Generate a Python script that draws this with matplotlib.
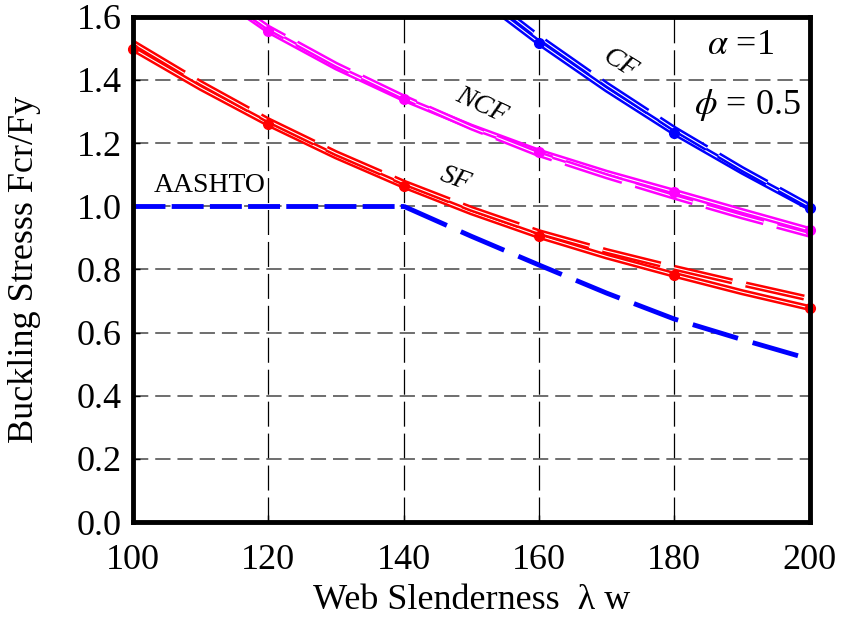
import matplotlib
matplotlib.use("Agg")
import matplotlib.pyplot as plt
import matplotlib.patheffects as pe

plt.rcParams['font.family'] = ['Liberation Serif', 'DejaVu Serif']
plt.rcParams['mathtext.fontset'] = 'stix'
plt.rcParams['lines.scale_dashes'] = False

# Web slenderness values
lam = [100, 110, 120, 130, 140, 150, 160, 170, 180, 190, 200]
lam_marks = [100, 120, 140, 160, 180, 200]

# SF curves
sf_solid = [1.499, 1.375, 1.261, 1.158, 1.065, 0.981, 0.906, 0.841, 0.783, 0.728, 0.678]
sf_dash = [1.518, 1.390, 1.272, 1.168, 1.075, 0.992, 0.918, 0.858, 0.805, 0.755, 0.707]
sf_marks = [1.499, 1.261, 1.065, 0.906, 0.783, 0.678]

# NCF curves
ncf_lam = [115, 120, 130, 140, 150, 160, 170, 180, 190, 200]
ncf_solid = [1.630, 1.556, 1.440, 1.340, 1.252, 1.173, 1.106, 1.046, 0.985, 0.925]
ncf_dash = [1.640, 1.565, 1.448, 1.345, 1.250, 1.165, 1.095, 1.030, 0.968, 0.910]
ncf_mark_lam = [120, 140, 160, 180, 200]
ncf_marks = [1.556, 1.340, 1.173, 1.046, 0.925]

# CF curves
cf_lam = [150, 160, 170, 180, 190, 200]
cf_solid = [1.680, 1.518, 1.370, 1.233, 1.110, 0.995]
cf_dash = [1.700, 1.535, 1.385, 1.245, 1.118, 1.000]
cf_mark_lam = [160, 180, 200]
cf_marks = [1.518, 1.233, 0.995]

# AASHTO design curve
aashto_flat_lam = [100, 140]
aashto_flat = [1.0, 1.0]
aashto_lam = [140, 150, 160, 170, 180, 190, 200]
aashto = [1.0, 0.905, 0.814, 0.725, 0.643, 0.578, 0.516]

fig = plt.figure(figsize=(8.55, 6.23), dpi=100)
ax = fig.add_axes([0.1556, 0.162, 0.7914, 0.811])

ax.set_xlim(100, 200)
ax.set_ylim(0, 1.6)
ax.set_xticks([100, 120, 140, 160, 180, 200])
ax.set_yticks([0.0, 0.2, 0.4, 0.6, 0.8, 1.0, 1.2, 1.4, 1.6])
ax.set_yticklabels([f"{v:.1f}" for v in ax.get_yticks()])

for x in [120, 140, 160, 180]:
    ax.axvline(x, color='black', lw=0.9, dashes=(18, 5), zorder=1)
for y in [0.2, 0.4, 0.6, 0.8, 1.0, 1.2, 1.4]:
    ax.axhline(y, color='#555555', lw=1.2, dashes=(11, 5), zorder=1)


def double_line(xs, ys, color, dashes=None):
    kw = dict(color='white', lw=0.8, zorder=3, solid_capstyle='butt',
              path_effects=[pe.Stroke(linewidth=4.4, foreground=color), pe.Normal()])
    if dashes is not None:
        kw['dashes'] = dashes
    ax.plot(xs, ys, **kw)


red = '#ff0000'
mag = '#ff00ff'
blue = '#0000ff'

double_line(lam, sf_solid, red)
double_line(lam, sf_dash, red, dashes=(43, 10))
ax.plot(lam_marks, sf_marks, 'o', color=red, ms=7, zorder=4, clip_on=False)

double_line(ncf_lam, ncf_solid, mag)
double_line(ncf_lam, ncf_dash, mag, dashes=(43, 10))
ax.plot(ncf_mark_lam, ncf_marks, 'o', color=mag, ms=7, zorder=4, clip_on=False)

double_line(cf_lam, cf_solid, blue)
double_line(cf_lam, cf_dash, blue, dashes=(40, 10))
ax.plot(cf_mark_lam, cf_marks, 'o', color=blue, ms=7, zorder=4, clip_on=False)

ax.plot(aashto_flat_lam, aashto_flat, color=blue, lw=3.5, dashes=(23, 4.5), zorder=3)
ax.plot(aashto_lam, aashto, color=blue, lw=3.5, dashes=(34, 11), zorder=3)

ax.text(172, 1.45, 'CF', fontsize=20, rotation=-32, ha='center', va='center', style='italic')
ax.text(151.5, 1.32, 'NCF', fontsize=20, rotation=-25, ha='center', va='center', style='italic')
ax.text(147.7, 1.085, 'SF', fontsize=20, rotation=-20, ha='center', va='center', style='italic')
ax.text(103.0, 1.065, 'AASHTO', fontsize=20, ha='left', va='center')
ax.text(189.8, 1.51, r'$\alpha$ =1', fontsize=26, ha='center', va='center')
ax.text(190.8, 1.32, r'$\phi$ = 0.5', fontsize=26, ha='center', va='center')

for s in ax.spines.values():
    s.set_linewidth(3.5)
    s.set_zorder(5)

ax.tick_params(direction='in', length=5, width=1, labelsize=26)
ax.tick_params(axis='x', pad=16)
ax.tick_params(axis='y', pad=8)
ax.set_xlabel('Web Slenderness  λ w', fontsize=26)
ax.set_ylabel('Buckling Stresss Fcr/Fy', fontsize=26)
ax.xaxis.set_label_coords(0.5, -0.122)
ax.yaxis.set_label_coords(-0.136, 0.5)

fig.savefig('out.png', dpi=100)
